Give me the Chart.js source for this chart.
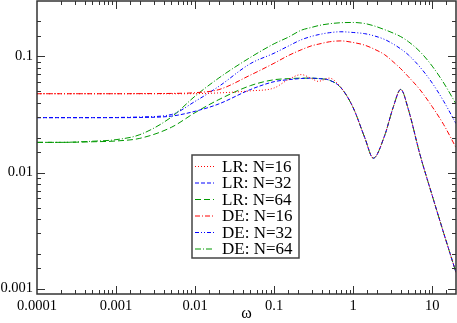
<!DOCTYPE html>
<html>
<head>
<meta charset="utf-8">
<script src="https://cdn.jsdelivr.net/npm/chart.js@4.4.0/dist/chart.umd.min.js"></script>
<style>
body{margin:0;background:#fff}
#wrap{width:457px;height:323px}
</style>
</head>
<body>
<div id="wrap"><canvas id="myChart" width="457" height="323"></canvas></div>
<script>
var omega = [0.0001,0.0002,0.0005,0.001,0.002,0.005,0.01,0.02,0.05,0.1,0.15,0.22,0.3,0.36,0.5,0.7,1,1.4,1.8,2.5,3.2,4,5,7,10,14,20]

var lr16 = [0.0477,0.0477,0.0477,0.0477,0.0477,0.0477,0.0478,0.0485,0.0505,0.0535,0.063,0.0697,0.0643,0.061,0.065,0.0538,0.0362,0.02,0.0133,0.0208,0.0362,0.052,0.0348,0.0143,0.00634,0.003,0.00138]
var lr32 = [0.0297,0.0297,0.0297,0.0297,0.0298,0.0306,0.0337,0.039,0.0518,0.0606,0.063,0.0645,0.065,0.0645,0.0624,0.0538,0.0362,0.02,0.0133,0.0208,0.0362,0.052,0.0348,0.0143,0.00634,0.003,0.00138]
var lr64 = [0.0182,0.0182,0.0184,0.0187,0.0197,0.0245,0.0328,0.0425,0.056,0.063,0.0643,0.065,0.065,0.0645,0.0624,0.0538,0.0362,0.02,0.0133,0.0208,0.0362,0.052,0.0348,0.0143,0.00634,0.003,0.00138]
var de16 = [0.0477,0.0477,0.0477,0.0477,0.0478,0.048,0.0487,0.0518,0.069,0.0874,0.1014,0.114,0.1236,0.1273,0.1336,0.136,0.1318,0.125,0.1165,0.1035,0.09,0.0783,0.0668,0.0517,0.0369,0.0258,0.0164]
var de32 = [0.0297,0.0297,0.0297,0.0298,0.0301,0.0316,0.041,0.0552,0.0866,0.1066,0.1224,0.139,0.149,0.1537,0.16,0.163,0.1607,0.157,0.151,0.14,0.128,0.116,0.103,0.081,0.059,0.041,0.0264]
var de64 = [0.0182,0.0182,0.0186,0.0192,0.0212,0.03,0.0455,0.0652,0.098,0.1285,0.146,0.168,0.178,0.184,0.191,0.195,0.196,0.192,0.184,0.17,0.159,0.148,0.134,0.11,0.0825,0.059,0.039]

var labels = ['LR: N=16','LR: N=32','LR: N=64','DE: N=16','DE: N=32','DE: N=64']
var xTitle = 'ω'

var serif = "'Liberation Serif','Times New Roman',serif"
var red = '#ff0000', blue = '#0000ff', green = '#009900'

function decadeLabel(v){
    var e = Math.log10(v)
    var r = Math.round(e)
    if (Math.abs(e-r) > 1e-6) return ''
    return r < 0 ? Math.pow(10,r).toFixed(-r) : String(Math.pow(10,r))
}

function makeSet(label, values, color, dash){
    return {
        label: label,
        data: omega.map(function(w,i){ return {x:w, y:values[i]} }),
        borderColor: color,
        borderDash: dash,
        borderWidth: 1,
        pointRadius: 0,
        fill: false,
        cubicInterpolationMode: 'monotone'
    }
}

// ticks drawn inward on all four sides, plus the frame
var innerTicks = {
    id: 'innerTicks',
    afterDraw: function(chart){
        var c = chart.ctx, a = chart.chartArea
        var xs = chart.scales.x, ys = chart.scales.y
        c.save()
        c.strokeStyle = '#333'
        c.lineWidth = 1
        c.setLineDash([])
        xs.ticks.forEach(function(t){
            if (t.value <= xs.min || t.value >= xs.max) return
            var p = Math.round(xs.getPixelForValue(t.value)) + 0.5
            var len = decadeLabel(t.value) ? 8 : 4
            c.beginPath()
            c.moveTo(p, a.bottom); c.lineTo(p, a.bottom - len)
            c.moveTo(p, a.top); c.lineTo(p, a.top + len)
            c.stroke()
        })
        ys.ticks.forEach(function(t){
            if (t.value <= ys.min || t.value >= ys.max) return
            var p = Math.round(ys.getPixelForValue(t.value)) + 0.5
            var len = decadeLabel(t.value) ? 8 : 4
            c.beginPath()
            c.moveTo(a.left, p); c.lineTo(a.left + len, p)
            c.moveTo(a.right, p); c.lineTo(a.right - len, p)
            c.stroke()
        })
        c.lineWidth = 1.5
        c.strokeRect(a.left, a.top, a.right - a.left, a.bottom - a.top)
        c.restore()
    }
}

var boxLegend = {
    id: 'boxLegend',
    afterDraw: function(chart){
        var c = chart.ctx
        var x0 = 192, y0 = 155, w = 107, h = 103, row = 16.5
        c.save()
        c.fillStyle = '#fff'
        c.fillRect(x0, y0, w, h)
        c.strokeStyle = '#444'
        c.lineWidth = 1.5
        c.strokeRect(x0, y0, w, h)
        c.font = '17px ' + serif
        c.textBaseline = 'alphabetic'
        chart.data.datasets.forEach(function(ds, i){
            var y = y0 + 11 + i*row
            c.strokeStyle = ds.borderColor
            c.lineWidth = 1
            c.setLineDash(ds.borderDash)
            c.beginPath()
            c.moveTo(x0 + 3, y + 0.5); c.lineTo(x0 + 22, y + 0.5)
            c.stroke()
            c.setLineDash([])
            c.fillStyle = '#000'
            c.fillText(ds.label, x0 + 30, y + 5.5)
        })
        c.restore()
    }
}

var ctx = document.getElementById('myChart').getContext('2d')
var myChart = new Chart(ctx, {
    type: 'line',
    data: {
        datasets: [
            makeSet(labels[0], lr16, red, [1,2]),
            makeSet(labels[1], lr32, blue, [4,2]),
            makeSet(labels[2], lr64, green, [6,3]),
            makeSet(labels[3], de16, red, [5,2,1,2]),
            makeSet(labels[4], de32, blue, [4,2,1,2,1,2]),
            makeSet(labels[5], de64, green, [6,2,1,2])
        ]
    },
    options: {
        responsive: false,
        animation: false,
        devicePixelRatio: 1,
        layout: { padding: { top: 1, right: 1, left: 0, bottom: 0 } },
        plugins: { legend: { display: false }, tooltip: { enabled: false } },
        scales: {
            x: {
                type: 'logarithmic',
                min: 0.0001,
                max: 20,
                grid: { display: false, drawTicks: false },
                border: { display: false },
                ticks: {
                    autoSkip: false,
                    maxRotation: 0,
                    padding: 3,
                    color: '#000',
                    font: { family: serif, size: 14.5 },
                    callback: function(v){ return decadeLabel(v) }
                },
                title: {
                    display: true,
                    text: xTitle,
                    color: '#000',
                    font: { family: serif, size: 16 },
                    padding: { top: 0, bottom: 0 }
                },
                afterFit: function(s){
                    s.height = 29
                    s.paddingLeft = 0
                    s.paddingRight = 0
                }
            },
            y: {
                type: 'logarithmic',
                min: 0.0009,
                max: 0.3,
                grid: { display: false, drawTicks: false },
                border: { display: false },
                ticks: {
                    autoSkip: false,
                    padding: 4,
                    color: '#000',
                    font: { family: serif, size: 14.5 },
                    callback: function(v){ return decadeLabel(v) }
                },
                afterFit: function(s){
                    s.width = 37
                    s.paddingTop = 0
                    s.paddingBottom = 0
                }
            }
        }
    },
    plugins: [innerTicks, boxLegend]
})
</script>
</body>
</html>
